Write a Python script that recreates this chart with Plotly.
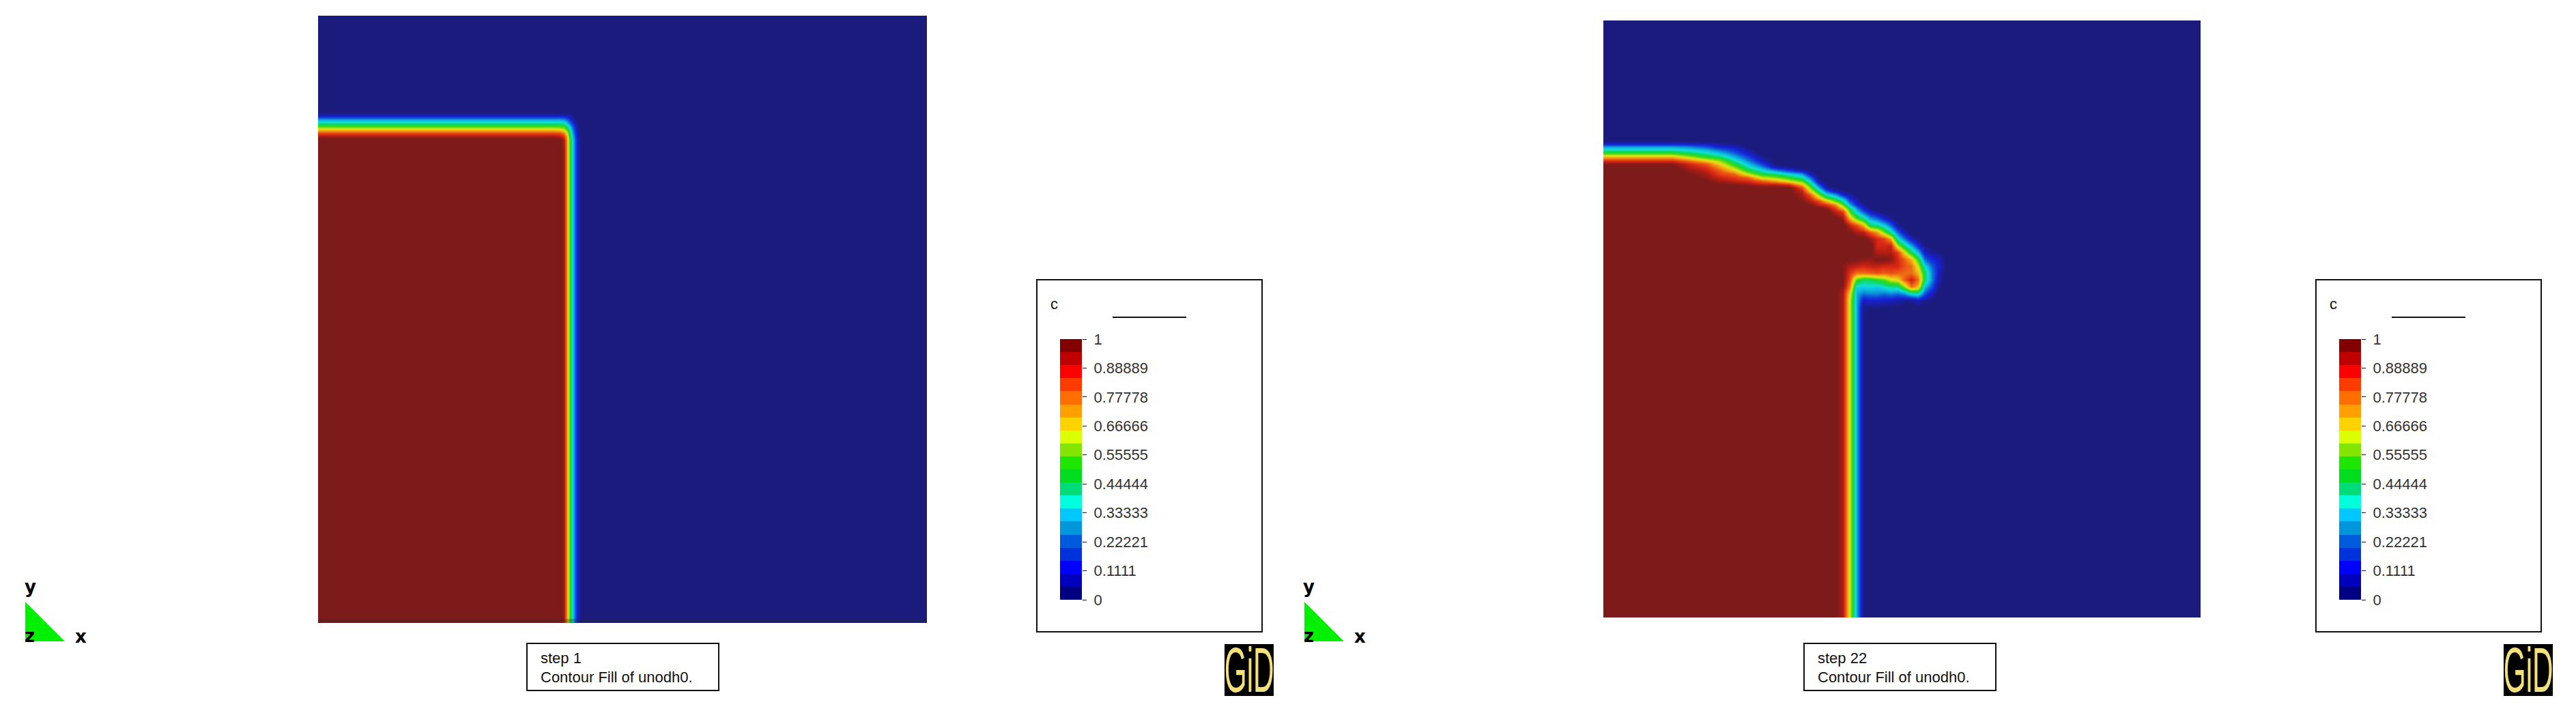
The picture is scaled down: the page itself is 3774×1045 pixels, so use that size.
import numpy as np
import plotly.graph_objects as go

W, H = 3774, 1045

# legend bands, bottom to top
band_colors = ["#000082", "#0000be", "#0000ff", "#0032dc", "#005adc", "#0096dc", "#00c8ff", "#00ffdc",
               "#00dc78", "#00dc1e", "#1ee600", "#82e600", "#dcff00", "#ffd200", "#ffa000", "#ff6e00",
               "#ff3c00", "#ff0000", "#be0000", "#820000"]
# same bands as they look on the shaded field
field_colors = ["#1b1b7d", "#1a1ea8", "#1520d8", "#1040d8", "#0f68d8", "#0c9cd8", "#0cc4e6", "#10e0cc",
                "#10d880", "#18d838", "#3cdc18", "#90dc14", "#d8e414", "#eec814", "#eea014", "#ee7214",
                "#e84a14", "#d82814", "#aa1c14", "#7d1b1b"]
band_levels = [0.025, 0.075, 0.125, 0.175, 0.225, 0.275, 0.325, 0.375, 0.425, 0.475,
               0.525, 0.575, 0.625, 0.675, 0.725, 0.775, 0.825, 0.875, 0.925, 0.975]
tick_vals = [0, 1/9, 2/9, 3/9, 4/9, 5/9, 6/9, 7/9, 8/9, 1]
tick_text = ["0", "0.1111", "0.22221", "0.33333", "0.44444", "0.55555", "0.66666", "0.77778", "0.88889", "1"]

# step 1 field, c in percent, one list per row
x1 = [466, 810, 820, 826, 830, 834, 838, 843, 848, 853, 1358]
y1 = [23, 160, 165, 170, 175, 180, 185, 190, 195, 200, 205, 220, 913]
z1_rows = [
    [0, 0, 0, 0, 0, 0, 0, 0, 0, 0, 0],
    [0, 0, 0, 0, 0, 0, 0, 0, 0, 0, 0],
    [2, 2, 2, 2, 2, 2, 2, 0, 0, 0, 0],
    [12, 12, 12, 12, 10, 8, 5, 2, 0, 0, 0],
    [28, 28, 28, 26, 22, 16, 8, 4, 1, 0, 0],
    [40, 40, 40, 38, 32, 25, 16, 7, 2, 0, 0],
    [52, 52, 52, 50, 44, 34, 24, 11, 3, 0, 0],
    [68, 68, 66, 62, 54, 42, 28, 14, 4, 0, 0],
    [83, 83, 82, 76, 65, 48, 32, 16, 5, 0, 0],
    [94, 94, 92, 86, 72, 52, 36, 18, 6, 0, 0],
    [100, 100, 98, 92, 75, 55, 38, 20, 7, 0, 0],
    [100, 100, 100, 94, 75, 55, 38, 20, 7, 0, 0],
    [100, 100, 100, 94, 75, 55, 38, 20, 7, 0, 0],
]

# step 22 field, c in percent, one list per column
y22 = [30, 200, 205, 210, 215, 220, 225, 230, 235, 240, 245, 250, 255, 260, 265, 270, 275, 280, 285, 290, 295,
       300, 305, 310, 320, 330, 340, 350, 360, 370, 380, 390, 400, 410, 420, 430, 440, 450, 460, 470, 905]
x22 = [2349, 2450, 2475, 2500, 2520, 2540, 2560, 2580, 2600, 2620, 2640, 2652, 2664, 2676, 2688, 2700, 2710,
       2720, 2730, 2740, 2750, 2760, 2770, 2780, 2790, 2800, 2810, 2820, 2830, 2840, 2850, 3224]
z22_cols = [
    [0, 0, 0, 10, 28, 40, 53, 70, 85, 96, 100] + [100] * 30,
    [0, 0, 0, 10, 28, 40, 53, 70, 85, 96, 100] + [100] * 30,
    [0, 0, 0, 9, 25, 36, 47, 60, 76, 88, 92, 95, 98, 100] + [100] * 27,
    [0, 0, 0, 8, 20, 31, 40, 50, 65, 80, 86, 90, 93, 95, 98, 100] + [100] * 25,
    [0, 0, 0, 5, 12, 24, 33, 45, 56, 65, 73, 80, 84, 89, 93, 98, 100] + [100] * 24,
    [0, 0, 0, 3, 10, 16, 23, 31, 40, 49, 58, 68, 80, 85, 90, 97, 100] + [100] * 24,
    [0, 0, 0, 0, 3, 7, 12, 19, 25, 33, 40, 50, 62, 80, 87, 95, 100] + [100] * 24,
    [0, 0, 0, 0, 0, 0, 2, 6, 10, 18, 28, 38, 49, 62, 80, 90, 100] + [100] * 24,
    [0] * 9 + [2, 10, 28, 45, 57, 72, 90, 100] + [100] * 24,
    [0] * 9 + [0, 5, 18, 36, 50, 62, 85, 100] + [100] * 24,
    [0] * 11 + [10, 28, 40, 53, 68, 83, 90, 93, 95, 98, 100] + [100] * 19,
    [0] * 11 + [2, 10, 23, 33, 45, 56, 66, 80, 87, 92, 98, 100] + [100] * 18,
    [0] * 13 + [3, 8, 19, 31, 45, 57, 70, 84, 90, 100] + [100] * 18,
    [0] * 15 + [2, 8, 21, 37, 52, 70, 86, 95, 100] + [100] * 17,
    [0] * 16 + [3, 10, 28, 42, 56, 76, 85, 91, 100] + [100] * 16,
    [0] * 17 + [3, 12, 28, 42, 54, 68, 84, 94, 100, 100, 100, 100, 100, 100, 97, 97, 98, 96, 92, 92, 92, 92, 92, 92],
    [0] * 17 + [2, 7, 12, 20, 30, 45, 53, 70, 90, 98, 100, 100, 100, 98, 92, 86, 82, 76, 66, 62, 62, 62, 62, 62],
    [0] * 18 + [2, 5, 9, 14, 26, 34, 53, 82, 93, 100, 100, 100, 98, 90, 78, 52, 36, 30, 30, 30, 30, 30, 30],
    [0] * 20 + [2, 6, 12, 20, 42, 70, 90, 100, 100, 100, 96, 88, 78, 45, 35, 24, 10, 4, 4, 4, 4],
    [0] * 22 + [3, 10, 28, 45, 80, 95, 100, 100, 95, 90, 80, 46, 36, 26, 12, 4, 0, 0, 0],
    [0] * 23 + [3, 22, 42, 72, 88, 88, 92, 98, 90, 82, 50, 34, 26, 12, 4, 0, 0, 0],
    [0] * 23 + [1, 12, 34, 56, 84, 88, 92, 98, 88, 80, 54, 38, 24, 10, 3, 0, 0, 0],
    [0] * 24 + [5, 22, 40, 72, 90, 92, 96, 88, 82, 62, 42, 26, 10, 3, 0, 0, 0],
    [0] * 25 + [6, 22, 38, 60, 85, 88, 88, 80, 65, 42, 24, 8, 2, 0, 0, 0],
    [0] * 26 + [8, 24, 43, 65, 80, 82, 78, 80, 58, 28, 6, 0, 0, 0, 0],
    [0] * 27 + [10, 30, 47, 70, 78, 78, 90, 78, 38, 5, 0, 0, 0, 0],
    [0] * 27 + [3, 14, 32, 50, 62, 70, 78, 70, 40, 10, 1, 0, 0, 0],
    [0] * 28 + [3, 10, 22, 36, 45, 45, 32, 20, 5, 0, 0, 0, 0],
    [0] * 29 + [6, 14, 22, 26, 26, 20, 10, 3, 0, 0, 0, 0],
    [0] * 29 + [4, 10, 12, 10, 8, 4, 1, 0, 0, 0, 0, 0],
    [0] * 30 + [2, 3, 2, 1, 0, 0, 0, 0, 0, 0, 0],
    [0] * 41,
]

captions = [["step 1", "Contour Fill of unodh0."], ["step 22", "Contour Fill of unodh0."]]


def px(x):
    return x / W


def py(y):
    return 1 - y / H


field_scale = [[0, field_colors[0]]] + [[lv, c] for lv, c in zip(band_levels, field_colors)] + [[1, field_colors[-1]]]
band_scale = [[i / 19, c] for i, c in enumerate(band_colors)]

fig = go.Figure()

z1 = np.array(z1_rows) / 100
z22 = np.array(z22_cols).T / 100
fig.add_trace(go.Heatmap(x=x1, y=y1, z=z1, xaxis="x", yaxis="y", zmin=0, zmax=1, zsmooth="best",
                         colorscale=field_scale, showscale=False))
fig.add_trace(go.Heatmap(x=x22, y=y22, z=z22, xaxis="x2", yaxis="y2", zmin=0, zmax=1, zsmooth="best",
                         colorscale=field_scale, showscale=False))

hidden = dict(visible=False, showgrid=False, zeroline=False, automargin=False)
axes = {
    "xaxis": dict(hidden, domain=[px(466), px(1358)], range=[466, 1358], anchor="y"),
    "yaxis": dict(hidden, domain=[py(913), py(23)], range=[913, 23], anchor="x"),
    "xaxis2": dict(hidden, domain=[px(2349), px(3224)], range=[2349, 3224], anchor="y2"),
    "yaxis2": dict(hidden, domain=[py(905), py(30)], range=[905, 30], anchor="x2"),
}

shapes = []
annotations = []


def text(x, y, s, size, font="Liberation Sans", anchor="left", color="#111111", weight="normal"):
    annotations.append(dict(x=px(x), y=py(y), xref="paper", yref="paper", text=s, showarrow=False,
                            xanchor=anchor, yanchor="middle",
                            font=dict(size=size, family=font, color=color, weight=weight)))


def rect(x0, y0, x1_, y1_, line="#111111", fill=None, width=2):
    shapes.append(dict(type="rect", xref="paper", yref="paper", x0=px(x0), x1=px(x1_), y0=py(y0), y1=py(y1_),
                       line=dict(color=line, width=width), fillcolor=fill))


# darker strip along the bottom of the first panel
rect(466, 907, 1358, 913, line="rgba(0,0,0,0)", fill="rgba(40,40,40,0.3)", width=0)

for i, (dx, cap_dx) in enumerate([(0, 0), (1874, 1871)]):
    # legend bar and its axis
    fig.add_trace(go.Heatmap(x=[0], y=band_levels, z=[[v] for v in band_levels], xaxis=f"x{i + 3}", yaxis=f"y{i + 3}",
                             zmin=0.025, zmax=0.975, colorscale=band_scale, showscale=False))
    axes[f"xaxis{i + 3}"] = dict(hidden, domain=[px(1553 + dx), px(1585 + dx)], range=[-0.5, 0.5], anchor=f"y{i + 3}")
    axes[f"yaxis{i + 3}"] = dict(domain=[py(879), py(497)], range=[0, 1], anchor=f"x{i + 3}", side="right",
                                 automargin=False, showgrid=False, zeroline=False, showline=False, ticks="outside",
                                 ticklen=6, tickcolor="#111111", tickvals=tick_vals, ticktext=tick_text,
                                 ticklabelstandoff=6, tickfont=dict(size=22, family="Liberation Sans", color="#333333"))
    # legend box
    rect(1519 + dx, 410, 1849 + dx, 926)
    text(1537 + dx, 445, "c", 22)
    shapes.append(dict(type="line", xref="paper", yref="paper", x0=px(1630 + dx), x1=px(1738 + dx), y0=py(465), y1=py(465),
                       line=dict(color="#111111", width=2)))
    # logo
    rect(1794 + dx, 944, 1866 + dx, 1020, line="#000000", fill="#000000", width=0)
    text(1830 + dx, 982, "GiD", 92, font="Liberation Sans", anchor="center", color="#f2e07c")
    # axes triad
    shapes.append(dict(type="path", xref="paper", yref="paper", line=dict(width=0), fillcolor="#00f000",
                       path=f"M {px(37 + dx)} {py(882)} L {px(37 + dx)} {py(940)} L {px(95 + dx)} {py(940)} Z"))
    text(44 + dx, 860, "y", 26, font="DejaVu Sans", anchor="center", color="#000000", weight="bold")
    text(43 + dx, 932, "z", 26, font="DejaVu Sans", anchor="center", color="#000000", weight="bold")
    text(119 + dx, 933, "x", 26, font="DejaVu Sans", anchor="center", color="#000000", weight="bold")
    # caption
    rect(772 + cap_dx, 943, 1053 + cap_dx, 1012)
    text(790 + cap_dx, 964, captions[i][0], 22)
    text(790 + cap_dx, 992, captions[i][1], 22)

fig.update_layout(width=W, height=H, margin=dict(l=0, r=0, t=0, b=0), paper_bgcolor="white", plot_bgcolor="white",
                  showlegend=False, shapes=shapes, annotations=annotations, **axes)

squeeze = """
document.body.style.margin = '0';
function squeezeLogo() {
  document.querySelectorAll('.annotation-text').forEach(function (t) {
    if (t.textContent === 'GiD') {
      t.style.transformBox = 'fill-box';
      t.style.transformOrigin = 'center';
      t.style.transform = 'scaleX(0.46)';
    }
  });
}
squeezeLogo();
setTimeout(squeezeLogo, 50);
"""
fig.write_html("out.html", post_script=squeeze, config={"displayModeBar": False})
